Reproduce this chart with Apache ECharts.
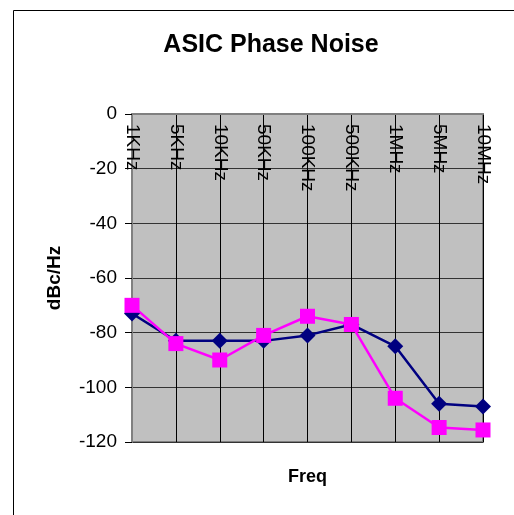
<!DOCTYPE html>
<html>
<head>
<meta charset="utf-8">
<script src="https://cdn.jsdelivr.net/npm/echarts@6/dist/echarts.min.js"></script>
<style>html,body{margin:0;padding:0;background:#fff;}#c{width:514px;height:515px;}</style>
</head>
<body>
<div id="c"></div>
<script>
const categories = ['1KHz','5KHz','10KHz','50KHz','100KHz','500KHz','1MHz','5MHz','10MHz'];
const seriesBlue = [-73, -83, -83, -83, -81, -77, -85, -106, -107];
const seriesMagenta = [-70, -84, -90, -81, -74, -77, -104, -114.7, -115.6];
const yTicks = { min: -120, max: 0, interval: 20 };

const chart = echarts.init(document.getElementById('c'), null, {renderer: 'canvas'});
const FONT = 'Liberation Sans, Arial, sans-serif';
chart.setOption({
  animation: false,
  backgroundColor: '#fff',
  title: {
    text: 'ASIC Phase Noise', left: 266, top: 28, textAlign: 'center',
    textStyle: { fontFamily: FONT, fontSize: 25, fontWeight: 'bold', color: '#000' }
  },
  graphic: [{
    type: 'rect', shape: { x: 13.5, y: 10.5, width: 600, height: 600 },
    style: { fill: 'none', stroke: '#000', lineWidth: 1 }, z: -1
  }],
  grid: {
    left: 132, top: 114, right: 31, bottom: 73,
    show: true, backgroundColor: '#C0C0C0', borderColor: '#808080', borderWidth: 2
  },
  xAxis: {
    type: 'category', data: categories, position: 'top', boundaryGap: false,
    name: 'Freq', nameLocation: 'middle', nameGap: -372,
    nameTextStyle: { fontFamily: FONT, fontSize: 18, fontWeight: 'bold', color: '#000' },
    axisLine: { show: true, onZero: false, lineStyle: { color: '#808080', width: 2 } },
    axisTick: { show: false },
    axisLabel: { inside: true, rotate: 90, margin: 10, fontFamily: FONT, fontSize: 19, color: '#000', interval: 0 },
    splitLine: { show: true, lineStyle: { color: '#000', width: 1 } }
  },
  yAxis: {
    type: 'value', min: yTicks.min, max: yTicks.max, interval: yTicks.interval,
    name: 'dBc/Hz', nameLocation: 'middle', nameGap: 68, nameRotate: 90,
    nameTextStyle: { fontFamily: FONT, fontSize: 19, fontWeight: 'bold', color: '#000' },
    axisLine: { show: true, lineStyle: { color: '#808080', width: 2 } },
    axisTick: { show: true, length: 7, lineStyle: { color: '#000' } },
    axisLabel: { margin: 15, fontFamily: FONT, fontSize: 19, color: '#000' },
    splitLine: { show: true, lineStyle: { color: '#333', width: 1 } }
  },
  series: [
    {
      type: 'line', data: seriesBlue, symbol: 'diamond', symbolSize: 16,
      lineStyle: { color: '#000080', width: 2.5 }, itemStyle: { color: '#000080' }
    },
    {
      type: 'line', data: seriesMagenta, symbol: 'rect', symbolSize: 15,
      lineStyle: { color: '#FF00FF', width: 2.5 }, itemStyle: { color: '#FF00FF' }
    }
  ]
});
</script>
</body>
</html>
